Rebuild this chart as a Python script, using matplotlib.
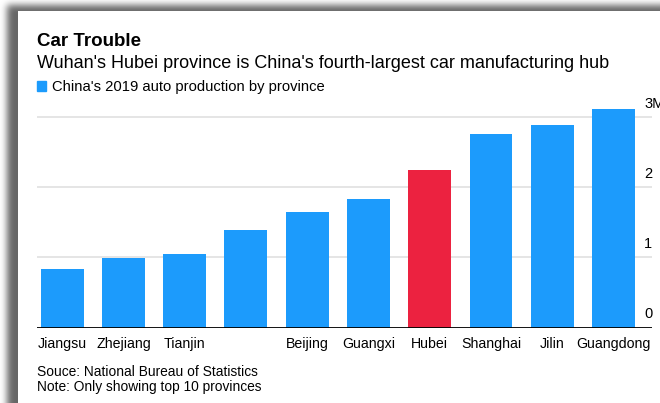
import numpy as np
import matplotlib
matplotlib.use("Agg")
import matplotlib.pyplot as plt
from matplotlib.patches import Rectangle
from matplotlib import transforms

# China's 2019 auto production by province (million units)
provinces = ["Jiangsu", "Zhejiang", "Tianjin", "", "Beijing", "Guangxi",
             "Hubei", "Shanghai", "Jilin", "Guangdong"]
production = [0.83, 0.99, 1.04, 1.39, 1.64, 1.83, 2.24, 2.75, 2.88, 3.11]
highlight = "Hubei"
y_ticks = [0, 1, 2, 3]
y_tick_labels = ["0", "1", "2", "3M"]

BLUE = "#1c9bfc"
RED = "#ec2240"
plt.rcParams["font.family"] = ["Liberation Sans", "DejaVu Sans"]

W, H = 660, 403
fig = plt.figure(figsize=(W / 100, H / 100), dpi=100)


def px(x, y):
    """pixel coords (from top-left) -> figure fraction"""
    return x / W, 1 - y / H


# card with a soft drop shadow on the left and top
def blur(a, sigma):
    r = int(3 * sigma)
    k = np.exp(-np.arange(-r, r + 1) ** 2 / (2 * sigma ** 2))
    k /= k.sum()
    a = np.pad(a, r, mode="edge")
    a = np.apply_along_axis(lambda v: np.convolve(v, k, mode="same"), 0, a)
    a = np.apply_along_axis(lambda v: np.convolve(v, k, mode="same"), 1, a)
    return a[r:-r, r:-r]


mask = np.zeros((H, W))
mask[5:, 7:] = 1.0
bg = 1 - 0.6 * blur(mask, 3.5)
bg[11:, 18:] = 1.0
bg_ax = fig.add_axes([0, 0, 1, 1], zorder=0)
bg_ax.imshow(bg, cmap="gray", vmin=0, vmax=1, aspect="auto",
             interpolation="bilinear")
bg_ax.axis("off")

# bar axes: baseline at y=327.5 px, 70.3 px per million
left, right, base = 37, 652, 327.5
ymax = 3.2
height = ymax * 70.3
ax = fig.add_axes([left / W, (H - base) / H, (right - left) / W, height / H],
                  zorder=1)
ax.set_facecolor("none")

x = np.arange(len(production))
colors = [RED if p == highlight else BLUE for p in provinces]
ax.bar(x, production, width=0.7, color=colors, zorder=2)
ax.set_xlim(-0.41, 9.627)
ax.set_ylim(0, ymax)

for t in y_ticks[1:]:
    ax.axhline(t, color="#e0e0e0", lw=1.2, zorder=1)
ax.axhline(0, color="black", lw=1.3, zorder=3)

for s in ax.spines.values():
    s.set_visible(False)
ax.set_yticks([])
ax.set_xticks(x)
ax.set_xticklabels(provinces, fontsize=10.2)
ax.tick_params(axis="x", length=0, pad=7)

# value labels sit just above their gridline on the right
trans = transforms.offset_copy(
    transforms.blended_transform_factory(ax.transAxes, ax.transData),
    fig=fig, x=-8, y=6, units="dots")
for t, lab in zip(y_ticks, y_tick_labels):
    ax.text(1, t, lab, transform=trans, fontsize=10.5, ha="left",
            va="bottom")

# titles
fig.text(*px(37, 46), "Car Trouble", fontsize=13.5, fontweight="bold",
         va="baseline")
fig.text(*px(37, 68), "Wuhan's Hubei province is China's fourth-largest car "
         "manufacturing hub", fontsize=13.0, va="baseline")

# legend
lx, ly = px(37, 91)
fig.patches.append(Rectangle((lx, ly), 9 / W, 10 / H, color=BLUE,
                             transform=fig.transFigure, figure=fig))
fig.text(*px(52, 91), "China's 2019 auto production by province",
         fontsize=10.6, va="baseline")

# footnotes
fig.text(*px(37, 376), "Souce: National Bureau of Statistics", fontsize=9.9,
         va="baseline")
fig.text(*px(37, 391), "Note: Only showing top 10 provinces", fontsize=9.9,
         va="baseline")

fig.savefig("out.png", dpi=100)
